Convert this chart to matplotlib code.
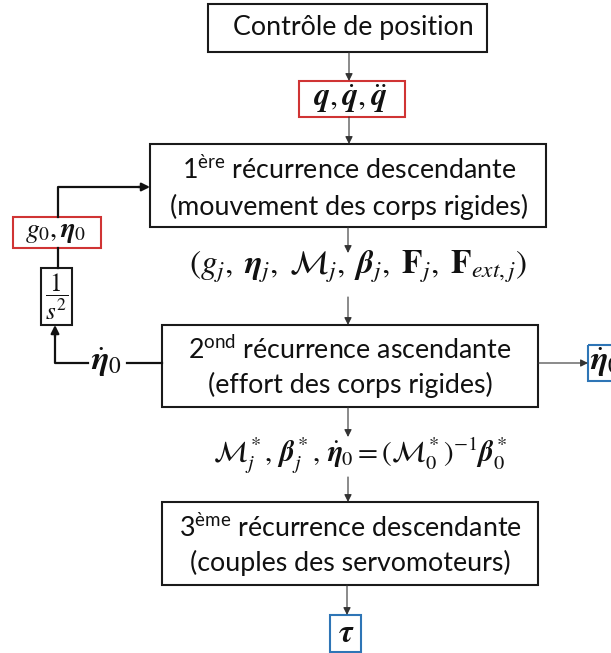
import matplotlib
matplotlib.use('Agg')
from matplotlib import pyplot as plt
from matplotlib.patches import Rectangle

plt.rcParams['font.family'] = ['Lato', 'DejaVu Sans']
plt.rcParams['mathtext.fontset'] = 'custom'
plt.rcParams['mathtext.rm'] = 'Lato'

W, H = 611, 653

# boxes: (x0, y0, x1, y1, edge colour)
boxes = {
    'ctrl': (208, 4, 487, 52, '#1a1a1a'),
    'q':    (299, 81, 405, 117, '#d03434'),
    'rec1': (150, 144, 546, 227, '#1a1a1a'),
    'rec2': (162, 325, 538, 407, '#1a1a1a'),
    'rec3': (162, 502, 538, 585, '#1a1a1a'),
    'tau':  (330, 615, 361, 652, '#2e75b6'),
    'g0':   (13, 217, 101, 248, '#d03434'),
    'int':  (41, 268, 72, 325, '#1a1a1a'),
    'eta':  (588, 345, 640, 381, '#2e75b6'),
}

# plain text labels: (x, y, text)
labels = [
    (353, 28, 'Contrôle de position'),
    (349, 170, r'1$^{\mathrm{ère}}$ récurrence descendante'),
    (349, 207, '(mouvement des corps rigides)'),
    (350, 350, r'2$^{\mathrm{ond}}$ récurrence ascendante'),
    (350, 385, '(effort des corps rigides)'),
    (350, 528, r'3$^{\mathrm{ème}}$ récurrence descendante'),
    (350, 563, '(couples des servomoteurs)'),
]

# math labels: (x, y, text, size, ha)
maths = [
    (350, 99, r'$\mathbfit{q},\dot{\mathbfit{q}},\ddot{\mathbfit{q}}$', 23, 'center'),
    (358, 267, r'$(g_j,\;\mathbfit{\eta}_j,\;\mathcal{M}_j,\;\mathbfit{\beta}_j,\;\mathbf{F}_j,\;\mathbf{F}_{ext,j})$', 24, 'center'),
    (360, 455, r'$\mathcal{M}^*_j,\,\mathbfit{\beta}^*_j,\,\dot{\mathbfit{\eta}}_0=(\mathcal{M}^*_0)^{-1}\mathbfit{\beta}^*_0$', 21, 'center'),
    (56, 232, r'$g_0,\mathbfit{\eta}_0$', 20, 'center'),
    (57, 297, r'$\dfrac{1}{s^2}$', 18, 'center'),
    (106, 362, r'$\dot{\mathbfit{\eta}}_0$', 24, 'center'),
    (590, 362, r'$\dot{\mathbfit{\eta}}_0$', 24, 'left'),
    (346, 633, r'$\mathbfit{\tau}$', 23, 'center'),
]

# thin arrows down the middle: (x0, y0, x1, y1)
arrows = [
    (349, 52, 349, 81),
    (349, 117, 349, 144),
    (348, 227, 348, 253),
    (348, 297, 348, 325),
    (348, 407, 348, 437),
    (348, 477, 348, 502),
    (347, 585, 347, 615),
    (538, 363, 588, 363),
]

fig = plt.figure(figsize=(W / 100, H / 100), dpi=100)
ax = fig.add_axes([0, 0, 1, 1])
ax.set_xlim(0, W)
ax.set_ylim(H, 0)
ax.axis('off')

for k, (x0, y0, x1, y1, c) in boxes.items():
    ax.add_patch(Rectangle((x0, y0), x1 - x0, y1 - y0, fill=False,
                           edgecolor=c, lw=1.5, zorder=2))

for x, y, t in labels:
    ax.text(x, y, t, ha='center', va='center', fontsize=19.3,
            color='#111111', math_fontfamily='custom')

for x, y, t, s, ha in maths:
    ax.text(x, y, t, ha=ha, va='center', fontsize=s, color='#111111',
            math_fontfamily='stix')

for x0, y0, x1, y1 in arrows:
    ax.annotate('', xy=(x1, y1), xytext=(x0, y0),
                arrowprops=dict(arrowstyle='-|>', lw=0.8, color='#333333',
                                mutation_scale=11, shrinkA=0, shrinkB=0))

# feedback loop on the left
ax.plot([58, 58, 140], [217, 187, 187], color='#111111', lw=1.6)
ax.annotate('', xy=(150, 187), xytext=(138, 187),
            arrowprops=dict(arrowstyle='-|>', lw=1.6, color='#111111',
                            mutation_scale=12, shrinkA=0, shrinkB=0))
ax.plot([58, 58], [248, 268], color='#111111', lw=1.6)
ax.plot([88, 55, 55], [363, 363, 335], color='#111111', lw=1.6)
ax.annotate('', xy=(55, 325), xytext=(55, 337),
            arrowprops=dict(arrowstyle='-|>', lw=1.6, color='#111111',
                            mutation_scale=12, shrinkA=0, shrinkB=0))
ax.plot([127, 162], [363, 363], color='#111111', lw=1.6)

fig.savefig('out.png', dpi=100)
